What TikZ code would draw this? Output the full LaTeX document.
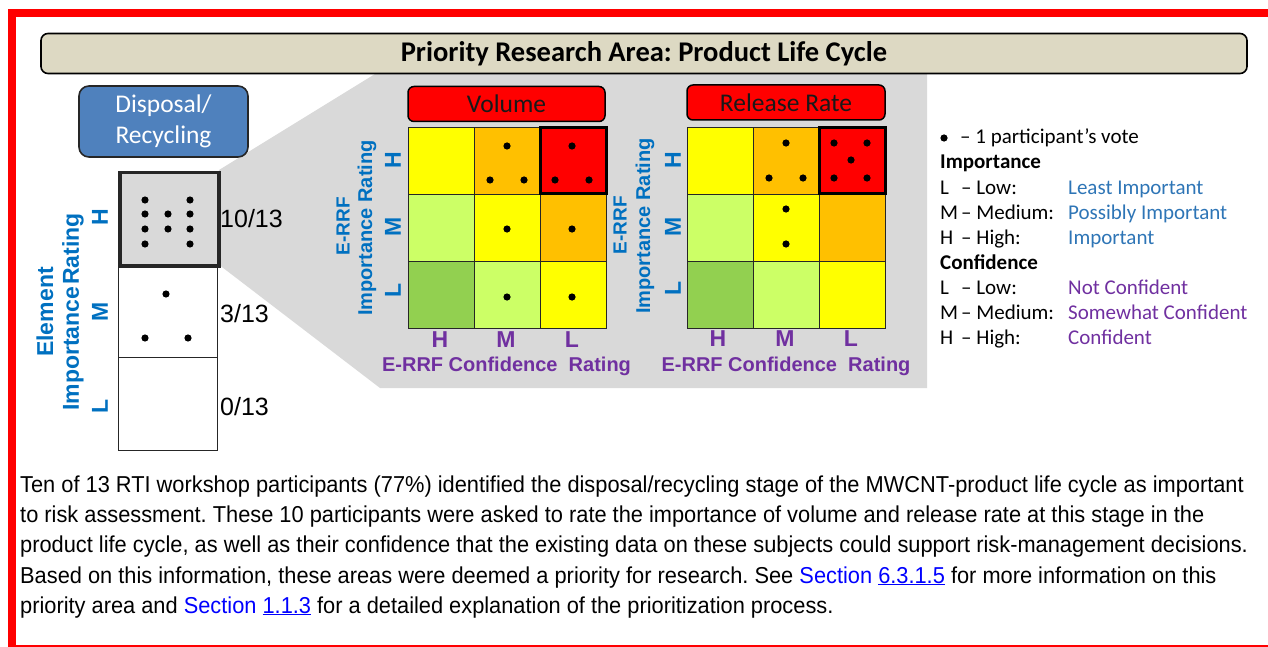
\documentclass[tikz,border=0pt]{standalone}
\usepackage{fontspec}
\setmainfont{Carlito}
\newfontfamily\arialf{Liberation Sans}
\newfontfamily\narrowf[FakeStretch=0.948]{Liberation Sans}
\usetikzlibrary{calc}
\frenchspacing
\definecolor{redb}{HTML}{FF0000}
\definecolor{tanc}{HTML}{DDD9C3}
\definecolor{steel}{HTML}{4F81BD}
\definecolor{grayarea}{HTML}{D9D9D9}
\definecolor{cyel}{HTML}{FFFF00}
\definecolor{corange}{HTML}{FFC000}
\definecolor{clgreen}{HTML}{CCFF66}
\definecolor{cgreen}{HTML}{92D050}
\definecolor{ablue}{HTML}{0070C0}
\definecolor{apurple}{HTML}{7030A0}
\definecolor{lblue}{HTML}{2E75B6}
\definecolor{linkblue}{HTML}{0000FF}
\newcommand\riskgrid[2]{%
  \foreach \cl/\rw/\clr in {0/0/cyel,1/0/corange,2/0/redb,0/1/clgreen,1/1/cyel,2/1/corange,0/2/cgreen,1/2/clgreen,2/2/cyel}{%
    \node[cellbox, fill=\clr] (#1-\rw-\cl) at ({#2+66*\cl},{127+67*\rw}) {};
  }%
  \draw[line width=3pt] ({#2+132},127.5) rectangle ({#2+198},194);
}
\newcommand\vote[1]{\fill (#1) circle[radius=3.6pt];}
\begin{document}
\begin{tikzpicture}[x=1pt,y=-1pt,
  cellbox/.style={draw=black!85, line width=1pt, minimum width=66pt, minimum height=67pt, inner sep=0pt, anchor=north west},
  colcell/.style={draw=black!85, line width=1pt, minimum width=99pt, minimum height=93pt, inner sep=0pt, anchor=north west, fill=white},
  vlab/.style={rotate=90, text=ablue, font=\arialf\bfseries\fontsize{20}{20}\selectfont, inner sep=0pt},
  vletter/.style={rotate=90, text=ablue, font=\arialf\bfseries\fontsize{23}{23}\selectfont, inner sep=0pt},
  hletter/.style={text=apurple, font=\arialf\bfseries\fontsize{23}{23}\selectfont, inner sep=0pt},
  hlab/.style={text=apurple, font=\arialf\bfseries\fontsize{20}{20}\selectfont, inner sep=0pt},
  frac/.style={anchor=west, font=\arialf\fontsize{25}{25}\selectfont, inner sep=0pt},
  redtitle/.style={draw=black, line width=1.5pt, fill=redb, rounded corners=6pt, minimum width=197pt, minimum height=35pt, inner sep=0pt, font=\fontsize{25.5}{25.5}\selectfont, text=black!90},
  leg/.style={anchor=base west, inner sep=0pt, font=\fontsize{21}{21}\selectfont},
  para/.style={anchor=base west, inner sep=0pt, font=\narrowf\fontsize{23}{23}\selectfont}
]
\useasboundingbox (0,0) rectangle (1268,647);
% red frame
\fill[redb] (8,9) rectangle (1268,17);
\fill[redb] (8,9) rectangle (16,647);
\draw[redb, line width=1.2pt] (8,646) -- (1268,646);
% gray zoom area
\fill[grayarea] (219,170) -- (375,74) -- (927,74) -- (927,388) -- (380,388) -- (218,264) -- cycle;
% title
\node[draw, fill=tanc, line width=1.6pt, rounded corners=7pt, minimum width=1206pt, minimum height=40pt, inner sep=0pt, font=\bfseries\fontsize{28.5}{28.5}\selectfont] (title) at (644,53.5) {Priority Research Area: Product Life Cycle};
% disposal box
\node[draw=black!85, fill=steel, line width=1.6pt, rounded corners=10pt, minimum width=169pt, minimum height=71pt, inner sep=0pt, align=center, text=white, font=\fontsize{25.5}{31}\selectfont] (disp) at (163.5,121.5) {Disposal/\\Recycling};
% element column
\node[colcell] (eM) at (118,264) {};
\node[colcell] (eL) at (118,357) {};
\node[colcell, fill=grayarea, line width=3.5pt, minimum height=93pt] (eH) at (118,171) {};
\foreach \p in {(145,200),(145,214),(145,229),(145,244),(168,214),(168,229),(190,200),(190,214),(190,229),(190,244),(166,294),(145,338),(188,338)}{\fill \p circle[radius=3.6pt];}
\node[frac] (fH) at (220,219) {10/13};
\node[frac] (fM) at (220,314) {3/13};
\node[frac] (fL) at (220,407) {0/13};
\node[vletter] (elab) at (45,312) {Element};
\node[vlab, font=\arialf\bfseries\fontsize{23}{23}\selectfont] (eimp) at (73,312) {Importance\kern2pt Rating};
\node[vletter] (eHl) at (100,217) {H};
\node[vletter] (eMl) at (100,312) {M};
\node[vletter] (eLl) at (100,406) {L};
% volume
\node[redtitle] (voltitle) at (506.5,104) {Volume};
\riskgrid{v}{408}
\vote{507,146}\vote{490,180}\vote{524,180}
\vote{572,146}\vote{555,180}\vote{589,180}
\vote{507,229}\vote{572,229}\vote{507,297}\vote{572,297}
\node[vlab, font=\arialf\bfseries\fontsize{19}{19}\selectfont] (verrf) at (343,226) {E-RRF};
\node[vlab] (vimp) at (367,228) {Importance Rating};
\node[vletter] (vH) at (393,160) {H};
\node[vletter] (vM) at (393,227) {M};
\node[vletter] (vL) at (393,290) {L};
\node[hletter] (vcH) at (440,340) {H};
\node[hletter] (vcM) at (506,340) {M};
\node[hletter] (vcL) at (572,340) {L};
\node[hlab] (vconf) at (506.5,366) {E-RRF Confidence\ \ Rating};
% release rate
\node[redtitle, minimum width=198pt] (reltitle) at (786,102.5) {Release Rate};
\riskgrid{r}{687}
\vote{786,143}\vote{769,178}\vote{803,178}
\vote{834,143}\vote{867,143}\vote{851,160}\vote{834,178}\vote{867,178}
\vote{786,209}\vote{786,244}
\node[vlab, font=\arialf\bfseries\fontsize{19}{19}\selectfont] (rerrf) at (620,225) {E-RRF};
\node[vlab] (rimp) at (645,226) {Importance Rating};
\node[vletter] (rH) at (673,160) {H};
\node[vletter] (rM) at (673,227) {M};
\node[vletter] (rL) at (673,288) {L};
\node[hletter] (rcH) at (718,339) {H};
\node[hletter] (rcM) at (785,339) {M};
\node[hletter] (rcL) at (851,339) {L};
\node[hlab] (rconf) at (786,366) {E-RRF Confidence\ \ Rating};
% legend
\fill (944,138) circle[radius=3.6pt];
\node[leg] (lg0) at (960,144) {– 1 participant’s vote};
\node[leg, font=\bfseries\fontsize{21}{21}\selectfont] (lgimp) at (940,169) {Importance};
\node[leg] (l1a) at (940,194) {L};
\node[leg] (l1b) at (961,194) {– Low:};
\node[leg, text=lblue] (l1c) at (1068,194) {Least Important};
\node[leg] (l2a) at (940,219) {M};
\node[leg] (l2b) at (961,219) {– Medium:};
\node[leg, text=lblue] (l2c) at (1068,219) {Possibly Important};
\node[leg] (l3a) at (940,244) {H};
\node[leg] (l3b) at (961,244) {– High:};
\node[leg, text=lblue] (l3c) at (1068,244) {Important};
\node[leg, font=\bfseries\fontsize{21}{21}\selectfont] (lgconf) at (940,269) {Confidence};
\node[leg] (l4a) at (940,294) {L};
\node[leg] (l4b) at (961,294) {– Low:};
\node[leg, text=apurple] (l4c) at (1068,294) {Not Confident};
\node[leg] (l5a) at (940,319) {M};
\node[leg] (l5b) at (961,319) {– Medium:};
\node[leg, text=apurple] (l5c) at (1068,319) {Somewhat Confident};
\node[leg] (l6a) at (940,344) {H};
\node[leg] (l6b) at (961,344) {– High:};
\node[leg, text=apurple] (l6c) at (1068,344) {Confident};
% paragraph
\node[para] (p1) at (20,492) {Ten of 13 RTI workshop participants (77\%) identified the disposal/recycling stage of the MWCNT-product life cycle as important};
\node[para] (p2) at (20,522) {to risk assessment. These 10 participants were asked to rate the importance of volume and release rate at this stage in the};
\node[para] (p3) at (20,552) {product life cycle, as well as their confidence that the existing data on these subjects could support risk-management decisions.};
\node[para] (p4) at (20,583) {Based on this information, these areas were deemed a priority for research. See {\color{linkblue}Section \underline{6.3.1.5}} for more information on this};
\node[para] (p5) at (20,613) {priority area and {\color{linkblue}Section \underline{1.1.3}} for a detailed explanation of the prioritization process.};
\end{tikzpicture}
\end{document}
